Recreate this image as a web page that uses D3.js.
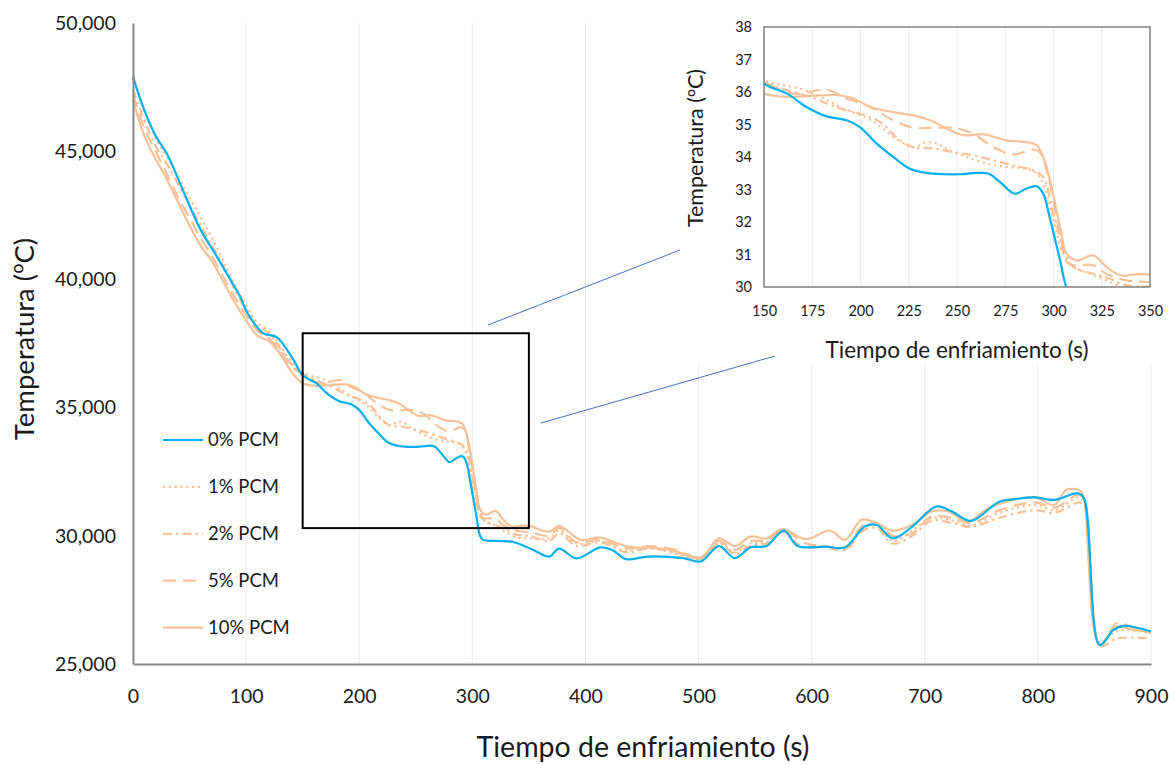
<!DOCTYPE html>
<html>
<head>
<meta charset="utf-8">
<style>
  body { margin: 0; background: #fff; }
  svg { display: block; font-family: Lato, "Open Sans", sans-serif; }
  .ord { font-family: "Open Sans", sans-serif; }
</style>
</head>
<body>
<svg width="1169" height="765"></svg>
<script src="https://d3js.org/d3.v7.min.js"></script>
<script>
// readings, time in s and temperature in ºC
var t0 = [0, 10, 20, 30, 43, 59, 74, 86, 95, 101, 115, 127, 142, 150, 162, 172, 182.5, 192.8, 199.7, 208.4, 217, 225.6, 234.3, 243, 251.6, 260.2, 266.2, 272.3, 280, 286, 291.3, 294.7, 298, 303.4, 306.8, 309.5, 320, 336, 354, 368, 376.6, 392, 413, 423.7, 436, 455, 486.5, 502, 518, 532, 546, 560, 575.5, 587.7, 612, 629.6, 647, 657.6, 671.5, 689, 710, 724, 741, 765.8, 779.6, 797, 814.5, 835.5, 840.7, 854.6, 866.8, 875.6, 900];
var v0 = [47.9, 46.6, 45.6, 44.9, 43.6, 42.0, 40.9, 40.0, 39.3, 38.7, 37.9, 37.75, 36.85, 36.26, 35.95, 35.54, 35.25, 35.13, 34.92, 34.41, 34.0, 33.64, 33.51, 33.47, 33.47, 33.51, 33.49, 33.23, 32.87, 33.03, 33.1, 32.87, 32.15, 30.82, 30.0, 29.84, 29.8, 29.76, 29.45, 29.19, 29.5, 29.12, 29.55, 29.45, 29.09, 29.19, 29.13, 29.0, 29.6, 29.13, 29.55, 29.6, 30.2, 29.6, 29.58, 29.55, 30.36, 30.42, 29.9, 30.36, 31.14, 30.95, 30.58, 31.33, 31.43, 31.5, 31.4, 31.66, 31.47, 25.74, 26.33, 26.49, 26.27];

var t1 = [0, 10, 20, 30, 40, 50, 60, 70, 80, 90, 100, 110, 120, 130, 140, 150, 168.7, 179, 189.4, 199.7, 208.4, 217, 227.4, 234.3, 239.5, 246.4, 255, 265.4, 275.7, 286, 291.3, 294.7, 300, 305, 310.3, 318.9, 327.5, 338, 350, 368, 377, 392, 413, 437, 455, 472, 502, 518, 532, 546, 560, 575, 590, 612, 630, 645, 658, 671, 689, 706, 724, 741, 766, 797, 815, 836, 841, 855, 870, 900];
var v1 = [47.9, 46.6, 45.5, 44.8, 44.0, 43.2, 42.4, 41.6, 40.7, 39.8, 39.0, 38.3, 38.0, 37.4, 36.8, 36.36, 36.1, 35.85, 35.54, 35.28, 35.03, 34.62, 34.3, 34.46, 34.41, 34.2, 34.0, 33.8, 33.69, 33.64, 33.49, 33.18, 32.05, 31.03, 30.62, 30.41, 30.2, 29.95, 29.9, 29.9, 30.2, 29.7, 29.8, 29.4, 29.6, 29.4, 29.15, 29.75, 29.35, 29.7, 29.75, 30.2, 29.6, 29.6, 29.5, 30.3, 30.4, 29.8, 30.2, 30.7, 30.6, 30.4, 30.9, 31.2, 31.0, 31.5, 31.3, 25.8, 26.3, 26.2];

var t2 = [0, 10, 20, 30, 40, 50, 60, 70, 80, 90, 100, 110, 120, 130, 140, 150, 173.8, 189.4, 199.7, 210, 220.4, 227.4, 237.7, 248, 258.4, 268.8, 279.2, 289.5, 294.7, 300, 305, 310.3, 320.6, 329, 338, 350, 368, 377, 392, 413, 437, 455, 480, 502, 518, 532, 546, 560, 575, 590, 612, 630, 645, 658, 671, 689, 706, 724, 741, 766, 797, 815, 836, 841, 855, 870, 900];
var v2 = [47.4, 46.2, 45.2, 44.5, 43.7, 42.9, 42.1, 41.3, 40.5, 39.6, 38.8, 38.2, 37.9, 37.3, 36.7, 36.3, 35.85, 35.49, 35.33, 35.08, 34.51, 34.3, 34.26, 34.15, 34.05, 33.9, 33.74, 33.59, 33.38, 32.26, 31.23, 30.62, 30.41, 30.26, 30.05, 30.0, 29.8, 30.1, 29.6, 29.75, 29.35, 29.5, 29.35, 29.1, 29.7, 29.3, 29.6, 29.7, 30.15, 29.6, 29.55, 29.45, 30.2, 30.3, 29.7, 30.0, 30.6, 30.5, 30.35, 30.7, 31.0, 30.9, 31.3, 31.2, 25.7, 26.0, 26.0];

var t5 = [0, 10, 20, 30, 40, 50, 60, 70, 80, 90, 100, 110, 120, 130, 140, 150, 165, 182.5, 192.8, 203.2, 217, 227.4, 237.7, 248, 258.4, 268.8, 279.2, 289.5, 293, 297.3, 303.4, 307.7, 320.6, 327.5, 338, 350, 368, 377, 392, 413, 437, 455, 480, 502, 518, 532, 546, 560, 575, 595, 612, 630, 645, 658, 671, 689, 706, 724, 741, 766, 797, 815, 836, 841, 855, 870, 885, 900];
var v5 = [47.2, 45.9, 45.0, 44.1, 43.2, 42.4, 41.6, 40.9, 40.1, 39.3, 38.6, 38.0, 37.7, 37.2, 36.6, 36.3, 35.95, 36.07, 35.8, 35.59, 35.13, 34.9, 34.9, 34.9, 34.72, 34.3, 34.08, 34.23, 34.15, 33.38, 31.64, 30.72, 30.67, 30.4, 30.2, 30.15, 30.0, 30.3, 29.75, 29.85, 29.5, 29.6, 29.45, 29.15, 29.8, 29.45, 29.8, 29.8, 30.2, 29.7, 29.6, 29.5, 30.4, 30.5, 30.0, 30.1, 30.75, 30.7, 30.5, 31.0, 31.3, 31.1, 31.6, 31.4, 25.75, 26.6, 26.4, 26.2];

var t10 = [0, 10, 20, 30, 40, 50, 60, 70, 80, 90, 100, 110, 120, 130, 140, 150, 161.7, 173.8, 189.4, 196.3, 205, 217, 227.4, 236, 246.4, 253.3, 263.6, 275.7, 286, 291.3, 294.7, 298.2, 303.4, 306.8, 312, 320.6, 327.5, 334.5, 343, 350, 368, 376.6, 395.8, 413, 437.7, 472.6, 502, 518, 532, 546, 560, 574, 595, 616, 629.6, 643.6, 654, 671.5, 689, 706, 720.5, 738, 759, 797, 814.5, 825, 837.5, 840.7, 854.6, 870, 884, 900];
var v10 = [47.0, 45.6, 44.7, 43.9, 43.0, 42.1, 41.3, 40.7, 39.9, 39.1, 38.4, 37.8, 37.6, 37.1, 36.4, 35.95, 35.85, 35.88, 35.9, 35.8, 35.54, 35.38, 35.28, 35.13, 34.82, 34.67, 34.7, 34.51, 34.46, 34.36, 34.0, 33.28, 31.85, 31.03, 30.82, 30.97, 30.62, 30.36, 30.39, 30.39, 30.16, 30.39, 29.84, 29.93, 29.58, 29.48, 29.16, 29.9, 29.6, 29.97, 29.9, 30.26, 29.87, 30.2, 29.84, 30.62, 30.56, 30.2, 30.43, 30.95, 30.95, 30.56, 31.14, 31.5, 31.2, 31.79, 31.76, 31.47, 25.74, 26.46, 26.33, 26.27];

var seriesNames = ["0% PCM", "1% PCM", "2% PCM", "5% PCM", "10% PCM"];
var xTicks = [0, 100, 200, 300, 400, 500, 600, 700, 800, 900];
var yTicks = [25, 30, 35, 40, 45, 50];
var insetXTicks = [150, 175, 200, 225, 250, 275, 300, 325, 350];
var insetYTicks = [30, 31, 32, 33, 34, 35, 36, 37, 38];
var zoomBox = { t: [150, 350], v: [30.3, 37.9] };

var blue = "#00b0f0", peach = "#f7c198";
var styles = [
  { color: blue, dash: null },
  { color: peach, dash: "2.2,3.6" },
  { color: peach, dash: "9,4,2.5,4" },
  { color: peach, dash: "13,7" },
  { color: peach, dash: null }
];
var series = [[t0, v0], [t1, v1], [t2, v2], [t5, v5], [t10, v10]].map(function(p, i) {
  return { name: seriesNames[i], style: styles[i],
    values: p[0].map(function(t, j) { return { t: t, v: p[1][j] }; }) };
});
var drawOrder = [4, 3, 2, 1, 0];
var ink = "#1a1a1a";

var svg = d3.select("svg");

// "Temperatura (ºC)" with the ordinal sign taken from a font that underlines it
function tempTitle(sel) {
  sel.append("tspan").text("Temperatura (");
  sel.append("tspan").attr("class", "ord").text("º");
  sel.append("tspan").text("C)");
}

// ---------- main chart ----------
var x = d3.scaleLinear().domain([0, 900]).range([133, 1151]);
var y = d3.scaleLinear().domain([25, 50]).range([664, 23]);

var main = svg.append("g");

main.append("g").selectAll("line")
  .data(xTicks.slice(1))
  .enter().append("line")
    .attr("x1", x).attr("x2", x)
    .attr("y1", y(25)).attr("y2", y(50))
    .attr("stroke", "#ececec").attr("stroke-width", 1);

var line = d3.line()
  .x(function(d) { return x(d.t); })
  .y(function(d) { return y(d.v); })
  .curve(d3.curveCatmullRom.alpha(0.5));

main.append("g").selectAll("path")
  .data(drawOrder.map(function(i) { return series[i]; }))
  .enter().append("path")
    .attr("fill", "none")
    .attr("stroke", function(d) { return d.style.color; })
    .attr("stroke-width", 2.2)
    .attr("stroke-dasharray", function(d) { return d.style.dash; })
    .attr("d", function(d) { return line(d.values); });

var xAxis = main.append("g")
  .attr("transform", "translate(0," + y(25) + ")")
  .call(d3.axisBottom(x).tickValues(xTicks).tickSize(0).tickPadding(25));
var yAxis = main.append("g")
  .attr("transform", "translate(" + x(0) + ",0)")
  .call(d3.axisLeft(y).tickValues(yTicks).tickSize(0).tickPadding(17)
    .tickFormat(function(d) { return d3.format(",")(d * 1000); }));
[xAxis, yAxis].forEach(function(a) {
  a.select(".domain").attr("stroke", "#878787").attr("stroke-width", 2);
  a.selectAll("text").attr("font-size", 19.5).attr("fill", ink)
    .attr("font-family", "Lato, sans-serif");
});

main.append("text")
  .attr("x", 643).attr("y", 757)
  .attr("text-anchor", "middle")
  .attr("font-size", 28.5).attr("fill", ink)
  .text("Tiempo de enfriamiento (s)");
main.append("text")
  .attr("transform", "translate(34,339)rotate(-90)")
  .attr("text-anchor", "middle")
  .attr("font-size", 27.5).attr("fill", ink)
  .call(tempTitle);

// zoomed region box
main.append("rect")
  .attr("x", x(zoomBox.t[0])).attr("y", y(zoomBox.v[1]))
  .attr("width", x(zoomBox.t[1]) - x(zoomBox.t[0]))
  .attr("height", y(zoomBox.v[0]) - y(zoomBox.v[1]))
  .attr("fill", "none").attr("stroke", "#000").attr("stroke-width", 2);

// legend
var legend = main.append("g").selectAll("g")
  .data(series)
  .enter().append("g")
    .attr("transform", function(d, i) { return "translate(163," + (440 + i * 46.9) + ")"; });
legend.append("line")
  .attr("x1", 0).attr("x2", 40)
  .attr("stroke", function(d) { return d.style.color; })
  .attr("stroke-width", 2.2)
  .attr("stroke-dasharray", function(d) { return d.style.dash; });
legend.append("text")
  .attr("x", 45).attr("dy", "0.35em")
  .attr("font-size", 18.5).attr("fill", ink)
  .text(function(d) { return d.name; });

// ---------- inset ----------
svg.append("rect")
  .attr("x", 681).attr("y", 0).attr("width", 488).attr("height", 365)
  .attr("fill", "#fff");

var ix = d3.scaleLinear().domain([150, 350]).range([764, 1150]);
var iy = d3.scaleLinear().domain([30, 38]).range([287, 27]);
var inset = svg.append("g");

svg.append("clipPath").attr("id", "insetClip")
  .append("rect")
    .attr("x", ix(150)).attr("y", iy(38))
    .attr("width", ix(350) - ix(150)).attr("height", iy(30) - iy(38));

inset.append("g").selectAll("line")
  .data(insetXTicks.slice(1, -1))
  .enter().append("line")
    .attr("x1", ix).attr("x2", ix)
    .attr("y1", iy(30)).attr("y2", iy(38))
    .attr("stroke", "#ececec");

var iline = d3.line()
  .x(function(d) { return ix(d.t); })
  .y(function(d) { return iy(d.v); })
  .curve(d3.curveCatmullRom.alpha(0.5));

inset.append("g").attr("clip-path", "url(#insetClip)")
  .selectAll("path")
  .data(drawOrder.map(function(i) { return series[i]; }))
  .enter().append("path")
    .attr("fill", "none")
    .attr("stroke", function(d) { return d.style.color; })
    .attr("stroke-width", 2.2)
    .attr("stroke-dasharray", function(d) { return d.style.dash; })
    .attr("d", function(d) {
      return iline(d.values.filter(function(p) { return p.t >= 120 && p.t <= 380; }));
    });

inset.append("rect")
  .attr("x", ix(150)).attr("y", iy(38))
  .attr("width", ix(350) - ix(150)).attr("height", iy(30) - iy(38))
  .attr("fill", "none").attr("stroke", "#878787").attr("stroke-width", 1.6);

var ixAxis = inset.append("g")
  .attr("transform", "translate(0," + iy(30) + ")")
  .call(d3.axisBottom(ix).tickValues(insetXTicks).tickSize(0).tickPadding(19));
var iyAxis = inset.append("g")
  .attr("transform", "translate(" + ix(150) + ",0)")
  .call(d3.axisLeft(iy).tickValues(insetYTicks).tickSize(0).tickPadding(12));
[ixAxis, iyAxis].forEach(function(a) {
  a.select(".domain").remove();
  a.selectAll("text").attr("font-size", 14.5).attr("fill", ink)
    .attr("font-family", "Lato, sans-serif");
});

inset.append("text")
  .attr("x", 957).attr("y", 358)
  .attr("text-anchor", "middle")
  .attr("font-size", 22.5).attr("fill", ink)
  .text("Tiempo de enfriamiento (s)");
inset.append("text")
  .attr("transform", "translate(703,148)rotate(-90)")
  .attr("text-anchor", "middle")
  .attr("font-size", 21.5).attr("fill", ink)
  .call(tempTitle);

// connector lines from the box to the inset
svg.append("g").selectAll("line")
  .data([[488, 325, 680, 250], [541, 423, 775, 356]])
  .enter().append("line")
    .attr("x1", function(d) { return d[0]; }).attr("y1", function(d) { return d[1]; })
    .attr("x2", function(d) { return d[2]; }).attr("y2", function(d) { return d[3]; })
    .attr("stroke", "#4472c4").attr("stroke-width", 1);
</script>
</body>
</html>
